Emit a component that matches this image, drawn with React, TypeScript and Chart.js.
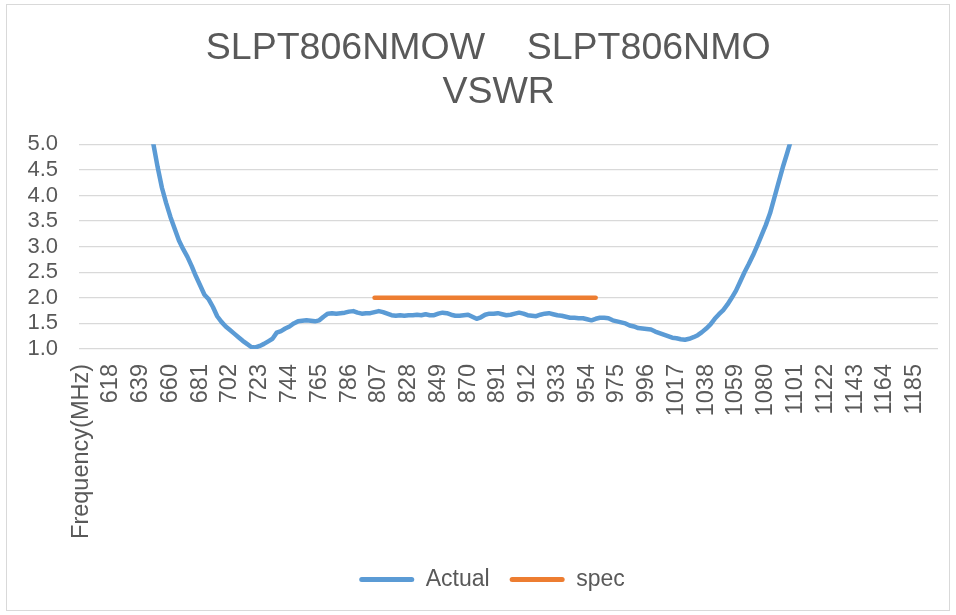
import { useEffect, useRef } from "react";
import { Chart, registerables } from "chart.js";

Chart.register(...registerables);

// ---- text ----
const titleLines = ["   SLPT806NMOW    SLPT806NMO  ", "   VSWR"];
const headerCategory = "Frequency(MHz)";
const actualLabel = "Actual";
const specLabel = "spec";

// ---- categories (MHz) ----
const frequencies = [
  600, 603, 606, 609, 612, 615, 618, 621, 624, 627, 630, 633, 636, 639, 642, 645, 648, 651, 654, 657,
  660, 663, 666, 669, 672, 675, 678, 681, 684, 687, 690, 693, 696, 699, 702, 705, 708, 711, 714, 717,
  720, 723, 726, 729, 732, 735, 738, 741, 744, 747, 750, 753, 756, 759, 762, 765, 768, 771, 774, 777,
  780, 783, 786, 789, 792, 795, 798, 801, 804, 807, 810, 813, 816, 819, 822, 825, 828, 831, 834, 837,
  840, 843, 846, 849, 852, 855, 858, 861, 864, 867, 870, 873, 876, 879, 882, 885, 888, 891, 894, 897,
  900, 903, 906, 909, 912, 915, 918, 921, 924, 927, 930, 933, 936, 939, 942, 945, 948, 951, 954, 957,
  960, 963, 966, 969, 972, 975, 978, 981, 984, 987, 990, 993, 996, 999, 1002, 1005, 1008, 1011, 1014, 1017,
  1020, 1023, 1026, 1029, 1032, 1035, 1038, 1041, 1044, 1047, 1050, 1053, 1056, 1059, 1062, 1065, 1068, 1071, 1074, 1077,
  1080, 1083, 1086, 1089, 1092, 1095, 1098, 1101, 1104, 1107, 1110, 1113, 1116, 1119, 1122, 1125, 1128, 1131, 1134, 1137,
  1140, 1143, 1146, 1149, 1152, 1155, 1158, 1161, 1164, 1167, 1170, 1173, 1176, 1179, 1182, 1185, 1188, 1191, 1194, 1197,
  1200,
];

// ---- measured VSWR (one value per frequency) ----
const actualVswr = [
  10.9, 10.6, 10.2, 9.8, 9.4, 9.0, 8.6, 8.3, 7.9, 7.6,
  7.2, 6.9, 6.6, 6.25, 5.9, 5.45, 5.0, 4.55, 4.15, 3.85,
  3.58, 3.35, 3.12, 2.95, 2.8, 2.62, 2.42, 2.24, 2.06, 1.97,
  1.82, 1.64, 1.53, 1.44, 1.37, 1.3, 1.23, 1.16, 1.1, 1.04,
  1.03, 1.06, 1.1, 1.15, 1.2, 1.32, 1.35, 1.4, 1.44, 1.5,
  1.54, 1.55, 1.56, 1.55, 1.54, 1.56, 1.63, 1.69, 1.7, 1.69,
  1.7, 1.71, 1.73, 1.74, 1.71, 1.69, 1.7, 1.7, 1.72, 1.74,
  1.72, 1.69, 1.66, 1.65, 1.66, 1.65, 1.66, 1.66, 1.67, 1.66,
  1.68, 1.66, 1.66, 1.69, 1.71, 1.7, 1.67, 1.65, 1.65, 1.66,
  1.67, 1.63, 1.59, 1.62, 1.67, 1.69, 1.69, 1.7, 1.68, 1.66,
  1.67, 1.69, 1.71, 1.69, 1.66, 1.65, 1.64, 1.67, 1.69, 1.7,
  1.68, 1.66, 1.65, 1.63, 1.61, 1.61, 1.6, 1.6, 1.58, 1.56,
  1.59, 1.61, 1.61, 1.6, 1.56, 1.54, 1.52, 1.5, 1.46, 1.44,
  1.41, 1.4, 1.39, 1.38, 1.34, 1.31, 1.28, 1.25, 1.22, 1.21,
  1.19, 1.18, 1.2, 1.23, 1.27, 1.33, 1.4, 1.48, 1.59, 1.68,
  1.76, 1.87, 2.0, 2.14, 2.32, 2.5, 2.66, 2.83, 3.02, 3.22,
  3.42, 3.65, 3.95, 4.25, 4.55, 4.82, 5.1, 5.45, 5.8, 6.2,
  6.6, 7.0, 7.4, 7.8, 8.2, 8.6, 9.0, 9.3, 9.6, 9.9,
  10.2, 10.5, 10.7, 10.9, 11.1, 11.3, 11.5, 11.6, 11.7, 11.8,
  11.9, 12.0, 12.1, 12.1, 12.2, 12.2, 12.3, 12.3, 12.4, 12.4,
  12.5,
];

// ---- spec limit ----
const specVswr = 2.0;
const specStartMHz = 804;
const specEndMHz = 960;

// ---- axis ----
const yMin = 1.0;
const yMax = 5.0;
const yStep = 0.5;
const labelEvery = 7;

const BLUE = "#5B9BD5";
const ORANGE = "#ED7D31";
const TEXT = "#595959";
const GRID = "#D9D9D9";
const FONT = "'Liberation Sans', Arial, Helvetica, sans-serif";

const legendShift = {
  id: "legendShift",
  afterLayout(chart: any) {
    const l = chart.legend;
    if (l) {
      l.left += 9;
      l.right += 9;
    }
  },
};

export default function App() {
  const ref = useRef<HTMLCanvasElement>(null);

  useEffect(() => {
    const labels = [headerCategory, ...frequencies.map(String)];
    const actualData: (number | null)[] = [null, ...actualVswr];
    const specData: (number | null)[] = [
      null,
      ...frequencies.map((f) => (f >= specStartMHz && f <= specEndMHz ? specVswr : null)),
    ];

    const chart = new Chart(ref.current as HTMLCanvasElement, {
      type: "line",
      data: {
        labels,
        datasets: [
          {
            label: actualLabel,
            data: actualData,
            borderColor: BLUE,
            backgroundColor: BLUE,
            borderWidth: 4.5,
            pointRadius: 0,
            pointHoverRadius: 0,
            borderCapStyle: "round",
            borderJoinStyle: "round",
            tension: 0,
            spanGaps: false,
          },
          {
            label: specLabel,
            data: specData,
            borderColor: ORANGE,
            backgroundColor: ORANGE,
            borderWidth: 4.5,
            pointRadius: 0,
            pointHoverRadius: 0,
            borderCapStyle: "round",
            borderJoinStyle: "round",
            tension: 0,
            spanGaps: false,
          },
        ],
      },
      plugins: [legendShift],
      options: {
        animation: false,
        responsive: false,
        maintainAspectRatio: false,
        events: [],
        layout: { padding: { left: 28, right: 18, top: 0, bottom: 14 } },
        plugins: {
          title: {
            display: true,
            text: titleLines,
            color: TEXT,
            font: { family: FONT, size: 37.5, weight: "normal", lineHeight: 1.17 },
            padding: { top: 27, bottom: 29.5 },
          },
          legend: {
            position: "bottom",
            labels: {
              color: TEXT,
              font: { family: FONT, size: 23 },
              boxWidth: 55,
              boxHeight: 5,
              padding: 20,
              useBorderRadius: true,
              generateLabels: (c: any) =>
                c.data.datasets.map((ds: any, i: number) => ({
                  text: ds.label,
                  fillStyle: ds.borderColor,
                  strokeStyle: ds.borderColor,
                  lineWidth: 0,
                  hidden: false,
                  datasetIndex: i,
                  borderRadius: 2.5,
                  fontColor: TEXT,
                })),
            },
          },
          tooltip: { enabled: false },
        },
        scales: {
          x: {
            offset: true,
            grid: { display: false },
            border: { display: false },
            ticks: {
              autoSkip: false,
              maxRotation: 90,
              minRotation: 90,
              padding: 7,
              color: TEXT,
              font: { family: FONT, size: 23.5 },
              callback: (_v: any, i: number) => (i % labelEvery === 0 ? labels[i] : null),
            },
            afterFit: (s: any) => {
              s.height = 199;
            },
          },
          y: {
            min: yMin,
            max: yMax,
            ticks: {
              stepSize: yStep,
              autoSkip: false,
              padding: 21,
              color: TEXT,
              font: { family: FONT, size: 22, lineHeight: 1 },
              callback: (v: any) => Number(v).toFixed(1),
            },
            grid: { color: GRID, lineWidth: 1.3, drawTicks: false },
            border: { display: false },
            afterFit: (s: any) => {
              s.width = 51;
            },
          },
        },
      },
    });
    return () => chart.destroy();
  }, []);

  return (
    <div style={{ position: "absolute", left: 0, top: 0, width: 956, height: 615, background: "#fff" }}>
      <div
        style={{
          position: "absolute",
          left: 6,
          top: 4,
          width: 944,
          height: 607,
          border: `1px solid ${GRID}`,
          boxSizing: "border-box",
        }}
      />
      <canvas ref={ref} width={956} height={615} style={{ position: "absolute", left: 0, top: 0 }} />
    </div>
  );
}
